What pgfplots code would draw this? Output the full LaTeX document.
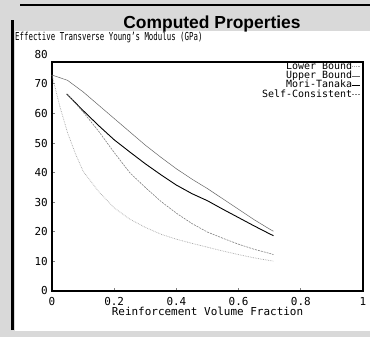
\documentclass[border=0pt]{standalone}
\usepackage{fontspec}
\setmainfont{DejaVu Sans Mono}
\newfontfamily\titlefont{Liberation Sans}
\usepackage{graphicx}
\usepackage{pgfplots}
\pgfplotsset{compat=1.18}
\begin{document}
\begin{tikzpicture}[x=1bp,y=1bp]
\fill[gray!30] (0,0) rectangle (370,337);
\useasboundingbox (0,0) rectangle (370,337);
\fill[white] (15,6) rectangle (370,306);
\draw[line width=2bp] (20,332) -- (370,332);
\draw[line width=3bp] (12.5,7) -- (12.5,317);
\node[anchor=base, font=\titlefont\bfseries\fontsize{17.5}{18}\selectfont] at (212,309) {Computed Properties};
\begin{axis}[
  at={(52bp,46bp)}, anchor=south west,
  scale only axis, width=311bp, height=229bp,
  xmin=0, xmax=1, ymin=0, ymax=77.4,
  axis line style={line width=1.5bp},
  tick align=inside, tick pos=left, major tick length=3bp,
  tick style={line width=1bp},
  xtick={0,0.2,0.4,0.6,0.8,1}, xticklabels={0,0.2,0.4,0.6,0.8,1},
  ytick={0,10,20,30,40,50,60,70},
  /pgf/number format/assume math mode=true,
  tick label style={font=\fontsize{11}{12}\selectfont},
  xticklabel style={inner sep=0pt, anchor=north, yshift=-6bp},
  yticklabel style={inner sep=0pt, anchor=east, xshift=-4bp},
  xlabel={Reinforcement Volume Fraction},
  xlabel style={at={(axis description cs:0.5,-0.07)}, anchor=north, inner sep=0pt, font=\fontsize{11}{12}\selectfont},
  every axis y label/.style={at={(axis description cs:-0.119,1.109)}, anchor=west, inner sep=0pt},
  ylabel={\fontsize{11}{12}\selectfont\scalebox{0.676}[1]{Effective Transverse Young's Modulus (GPa)}},
  legend style={draw=none, fill=none, at={(axis description cs:0.994,1)}, anchor=north east,
    font=\fontsize{10}{10}\selectfont, row sep=0.3bp, inner sep=0pt,
    nodes={inner sep=0pt, text height=7bp, text depth=2bp}},
  legend cell align=right, legend plot pos=right,
  legend image code/.code={\draw[#1] (0bp,0bp) -- (8bp,0bp);},
  clip=false,
]
\addplot[gray!70, densely dotted, line width=0.7bp] coordinates {
(0,73) (0.025,62.5) (0.05,53.5) (0.075,46.5) (0.1,40.5) (0.15,33.6) (0.2,28.1) (0.25,24.3) (0.3,21.5) (0.35,19.2) (0.4,17.5) (0.45,16.1) (0.5,14.8) (0.55,13.5) (0.6,12.3) (0.65,11.2) (0.7,10.3) (0.712,10.1)};
\addlegendentry{Lower Bound}
\addplot[gray!80!black, line width=0.5bp] coordinates {
(0,73) (0.05,71.2) (0.1,67.3) (0.15,62.8) (0.2,58.3) (0.25,53.8) (0.3,49.3) (0.35,45.2) (0.4,41.3) (0.45,37.8) (0.5,34.6) (0.55,31.1) (0.6,27.6) (0.65,24.1) (0.7,20.9) (0.712,20.2)};
\addlegendentry{Upper Bound}
\addplot[black, line width=0.9bp] coordinates {
(0.047,66.6) (0.1,61) (0.15,55.9) (0.2,51.1) (0.25,47.0) (0.3,43.0) (0.35,39.3) (0.4,35.8) (0.45,32.9) (0.5,30.5) (0.55,27.6) (0.6,24.8) (0.65,22.0) (0.7,19.3) (0.712,18.7)};
\addlegendentry{Mori-Tanaka}
\addplot[gray, dash pattern=on 2bp off 1bp, line width=0.6bp] coordinates {
(0.05,66.5) (0.1,60.5) (0.15,54) (0.2,46.8) (0.25,40.0) (0.3,35.0) (0.35,30.3) (0.4,26.3) (0.45,22.8) (0.5,19.9) (0.55,17.8) (0.6,15.8) (0.65,14.1) (0.7,12.7) (0.712,12.3)};
\addlegendentry{Self-Consistent}
\node[anchor=east, inner sep=0pt, xshift=-4bp, font=\fontsize{11}{12}\selectfont] at (axis cs:0,80) {80};
\end{axis}
\end{tikzpicture}
\end{document}
